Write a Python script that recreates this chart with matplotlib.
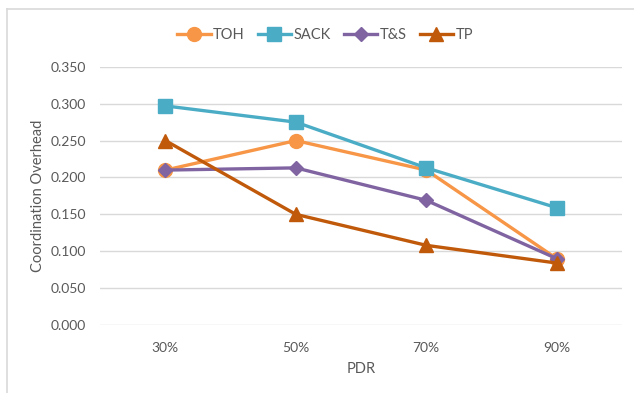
import matplotlib
matplotlib.use("Agg")
import matplotlib.pyplot as plt
from matplotlib.lines import Line2D

categories = ["30%", "50%", "70%", "90%"]
toh = [0.210, 0.250, 0.210, 0.090]
sack = [0.297, 0.275, 0.213, 0.159]
ts = [0.210, 0.213, 0.169, 0.090]
tp = [0.250, 0.150, 0.108, 0.084]
y_ticks = [0.0, 0.05, 0.10, 0.15, 0.20, 0.25, 0.30, 0.35]

series = [
    ("TOH", toh, "#F79646", "o", 10),
    ("SACK", sack, "#4BACC6", "s", 10),
    ("T&S", ts, "#8064A2", "D", 7.5),
    ("TP", tp, "#C0590A", "^", 10),
]

plt.rcParams["font.family"] = ["Lato", "DejaVu Sans"]
text_color = "#595959"

fig = plt.figure(figsize=(6.34, 3.93), dpi=100)
ax = fig.add_axes([0.158, 0.173, 0.823, 0.657])

x = list(range(len(categories)))
for name, vals, color, marker, ms in series:
    ax.plot(x, vals, color=color, linewidth=2.4, marker=marker,
            markersize=ms, markerfacecolor=color, markeredgecolor=color,
            label=name, zorder=3)

ax.set_xlim(-0.5, len(categories) - 0.5)
ax.set_ylim(0, 0.35)
ax.set_yticks(y_ticks)
ax.set_yticklabels([f"{v:.3f}" for v in y_ticks])
ax.set_xticks(x)
ax.set_xticklabels(categories)
ax.yaxis.grid(True, color="#D9D9D9", linewidth=1.0, zorder=0)
ax.set_axisbelow(True)
for s in ax.spines.values():
    s.set_visible(False)
ax.tick_params(axis="both", length=0, labelsize=10, colors=text_color)
ax.tick_params(axis="y", pad=10)
ax.tick_params(axis="x", pad=12)
ax.set_xlabel("PDR", fontsize=10.5, color=text_color, labelpad=6)
ax.set_ylabel("Coordination Overhead", fontsize=10.5, color=text_color, labelpad=4)

handles = [Line2D([0], [0], color=c, linewidth=2.4, marker=m, markersize=ms,
                  markerfacecolor=c, markeredgecolor=c)
           for _, _, c, m, ms in series]
labels = [s[0] for s in series]
leg = fig.legend(handles, labels, loc="center", bbox_to_anchor=(325 / 634, 1 - 35 / 393),
                 ncol=4, frameon=False, fontsize=10.5, handlelength=2.3,
                 handletextpad=0.15, columnspacing=0.9)
for t in leg.get_texts():
    t.set_color(text_color)

# outer chart frame
fig.add_artist(Line2D([7 / 634, 7 / 634], [0, 1 - 9 / 393], color="#D9D9D9",
                      linewidth=1.2, transform=fig.transFigure))
fig.add_artist(Line2D([7 / 634, 1], [1 - 9 / 393, 1 - 9 / 393], color="#D9D9D9",
                      linewidth=1.2, transform=fig.transFigure))

fig.savefig("out.png", dpi=100)
